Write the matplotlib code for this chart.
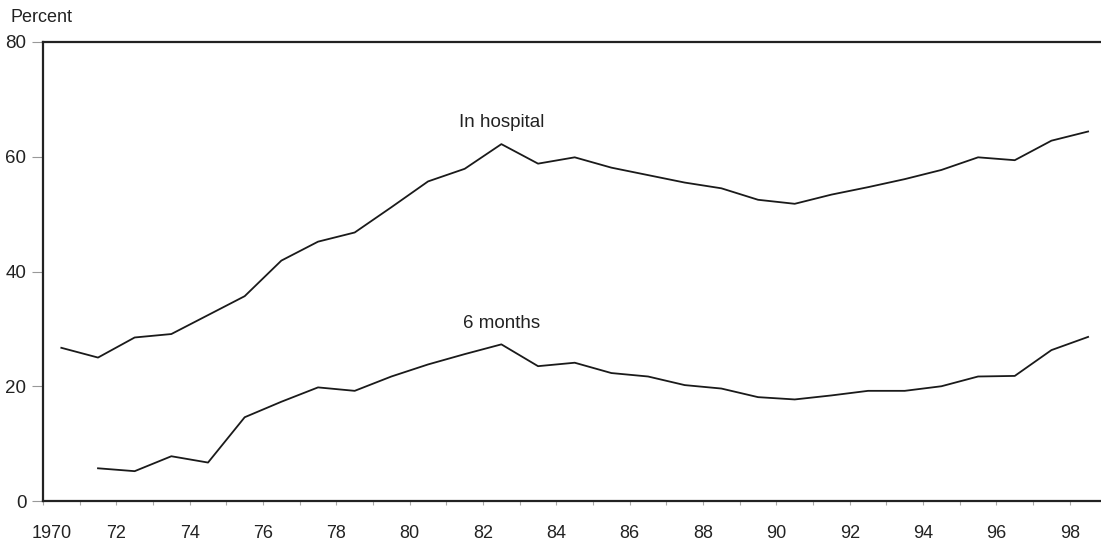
import matplotlib
matplotlib.use("Agg")
import matplotlib.pyplot as plt
import matplotlib.transforms as mtransforms
import numpy as np

plt.rcParams['font.family'] = ['Liberation Sans', 'DejaVu Sans']

years_hosp = [1970.5, 1971.5, 1972.5, 1973.5, 1974.5, 1975.5, 1976.5, 1977.5, 1978.5, 1979.5,
              1980.5, 1981.5, 1982.5, 1983.5, 1984.5, 1985.5, 1986.5, 1987.5, 1988.5, 1989.5,
              1990.5, 1991.5, 1992.5, 1993.5, 1994.5, 1995.5, 1996.5, 1997.5, 1998.5]
in_hospital = [26.7, 25.0, 28.5, 29.1, 32.4, 35.7, 41.9, 45.2, 46.8, 51.2,
               55.7, 57.9, 62.2, 58.8, 59.9, 58.1, 56.8, 55.5, 54.5, 52.5,
               51.8, 53.4, 54.7, 56.1, 57.7, 59.9, 59.4, 62.8, 64.4]

years_6m = [1971.5, 1972.5, 1973.5, 1974.5, 1975.5, 1976.5, 1977.5, 1978.5, 1979.5,
            1980.5, 1981.5, 1982.5, 1983.5, 1984.5, 1985.5, 1986.5, 1987.5, 1988.5, 1989.5,
            1990.5, 1991.5, 1992.5, 1993.5, 1994.5, 1995.5, 1996.5, 1997.5, 1998.5]
six_months = [5.7, 5.2, 7.8, 6.7, 14.6, 17.3, 19.8, 19.2, 21.7,
              23.8, 25.6, 27.3, 23.5, 24.1, 22.3, 21.7, 20.2, 19.6, 18.1,
              17.7, 18.4, 19.2, 19.2, 20.0, 21.7, 21.8, 26.3, 28.6]

x_tick_years = list(range(1970, 1999, 2))
x_tick_labels = ['1970'] + [f"{y % 100:02d}" for y in x_tick_years[1:]]
y_ticks = [0, 20, 40, 60, 80]

fig = plt.figure(figsize=(11.01, 5.42), dpi=100)
ax = fig.add_axes([43/1101, 1 - 501/542, 1 - 43/1101, (501 - 42)/542])

ax.plot(years_hosp, in_hospital, color='#1a1a1a', lw=1.3)
ax.plot(years_6m, six_months, color='#1a1a1a', lw=1.3)

ax.set_xlim(1970, 1970 + (1101 - 43) / 36.67)
ax.set_ylim(0, 80)

ax.spines['right'].set_visible(False)
for s in ['left', 'top', 'bottom']:
    ax.spines[s].set_linewidth(1.6)
    ax.spines[s].set_color('#222222')

ax.set_xticks(x_tick_years)
ax.set_xticklabels(x_tick_labels)
ax.set_xticks(list(range(1971, 1999, 2)), minor=True)
ax.tick_params(axis='x', which='both', direction='out', length=3, width=0.8,
               color='#aaaaaa', pad=14, labelsize=13, labelcolor='#222222')
ax.set_yticks(y_ticks)
ax.tick_params(axis='y', direction='out', length=8, width=0.8, color='#999999',
               pad=4, labelsize=13.5, labelcolor='#222222')

# shift the first x label right like the reference
lbl = ax.get_xticklabels()[0]
lbl.set_transform(lbl.get_transform() + mtransforms.ScaledTranslation(9/100, 0, fig.dpi_scale_trans))

ax.text(1982.5, 66.0, 'In hospital', ha='center', va='center', fontsize=13.5, color='#222222')
ax.text(1982.5, 31.0, '6 months', ha='center', va='center', fontsize=13.5, color='#222222')

fig.text(10/1101, 1 - 18/542, 'Percent', ha='left', va='center', fontsize=13, color='#222222')

fig.savefig('out.png', dpi=100)
